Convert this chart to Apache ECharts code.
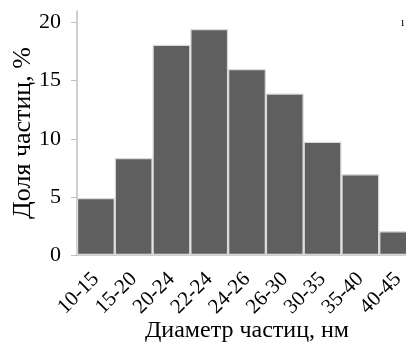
<!DOCTYPE html>
<html><head><meta charset="utf-8">
<script src="https://cdn.jsdelivr.net/npm/echarts@6/dist/echarts.min.js"></script>
<style>html,body{margin:0;padding:0;background:#fff}#c{width:406px;height:345px}</style>
</head><body><div id="c"></div>
<script>
const categories = ['10-15','15-20','20-24','22-24','24-26','26-30','30-35','35-40','40-45'];
const shares = [4.9, 8.35, 18.1, 19.45, 16.0, 13.9, 9.75, 6.95, 2.05];
const yTicks = [0, 5, 10, 15, 20];
const xTitle = 'Диаметр частиц, нм';
const yTitle = 'Доля частиц, %';
const font = 'Liberation Serif';

const chart = echarts.init(document.getElementById('c'));
chart.setOption({
  animation: false,
  backgroundColor: '#fff',
  grid: { left: 77, top: 11, width: 340, bottom: 90, containLabel: false, outerBoundsMode: 'none' },
  xAxis: {
    type: 'category', data: categories,
    name: xTitle, nameLocation: 'middle', nameGap: 64, nameMoveOverlap: false,
    nameTextStyle: { fontFamily: font, fontSize: 24, color: '#000' },
    axisLine: { lineStyle: { color: '#bfbfbf', width: 1.5 } },
    axisTick: { show: false },
    axisLabel: { rotate: 45, margin: 21, fontFamily: font, fontSize: 21, color: '#000', interval: 0 }
  },
  yAxis: {
    type: 'value', min: 0, max: 21, interval: 5,
    name: yTitle, nameLocation: 'middle', nameGap: 41, nameMoveOverlap: false,
    nameTextStyle: { fontFamily: font, fontSize: 26, color: '#000' },
    splitLine: { show: false },
    axisLine: { show: true, lineStyle: { color: '#bfbfbf', width: 1.5 } },
    axisTick: { show: true, length: 6, lineStyle: { color: '#bfbfbf' }, customValues: yTicks },
    axisLabel: { margin: 16, fontFamily: font, fontSize: 22, color: '#000', customValues: yTicks }
  },
  series: [{
    type: 'bar', data: shares, barCategoryGap: 0,
    itemStyle: { color: '#5f5f5f', borderColor: '#d9d9d9', borderWidth: 1.2 }
  }],
  graphic: [{ type: 'text', left: 401, top: 17, style: { text: 'ı', font: '12px "Liberation Serif"', fill: '#000' } }]
});
</script></body></html>
